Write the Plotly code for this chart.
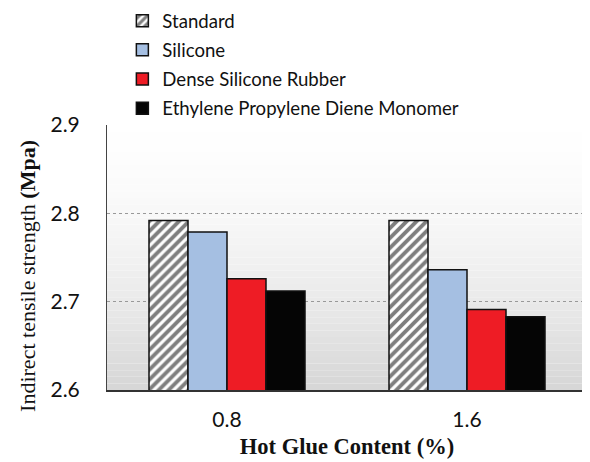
import plotly.graph_objects as go

CATEGORIES = ["0.8", "1.6"]
SERIES = ["Standard", "Silicone", "Dense Silicone Rubber", "Ethylene Propylene Diene Monomer"]
VALUES = {
    "Standard": [2.792, 2.792],
    "Silicone": [2.779, 2.736],
    "Dense Silicone Rubber": [2.726, 2.691],
    "Ethylene Propylene Diene Monomer": [2.712, 2.683],
}
Y_TICKS = [2.6, 2.7, 2.8, 2.9]

FILL = {
    "Standard": "white",
    "Silicone": "#a5bfe2",
    "Dense Silicone Rubber": "#ee1c25",
    "Ethylene Propylene Diene Monomer": "#050505",
}

SANS = "Lato, Open Sans, sans-serif"
SERIF = "Liberation Serif, Times New Roman, serif"

fig = go.Figure()
for name in SERIES:
    marker = dict(color=FILL[name], line=dict(color="#111", width=1.5))
    if name == "Standard":
        marker["pattern"] = dict(shape="/", fgcolor="#000", bgcolor="white",
                                 size=7, solidity=0.55)
    fig.add_trace(go.Bar(x=CATEGORIES, y=VALUES[name], name=name,
                         legendgroup=name, marker=marker))

# light vertical gradient behind the bars
n = 40
for i in range(n):
    t = i / (n - 1)
    g = int(255 - 40 * (1 - t) ** 1.6)
    fig.add_shape(type="rect", xref="paper", yref="paper",
                  x0=0, x1=1, y0=i / n, y1=(i + 1) / n,
                  fillcolor=f"rgb({g},{g},{g})", line_width=0, layer="below")

# y title as annotation so it can sit a little low, like the original
fig.add_annotation(
    text="Indirect tensile strength <b>(Mpa)</b>", textangle=-90,
    xref="paper", yref="paper", x=-0.167, y=0.43, showarrow=False,
    xanchor="center", yanchor="middle",
    font=dict(family=SERIF, size=22, color="#111"),
)

# page body has an 8px margin, so the figure is drawn 8px smaller and shifted
fig.update_layout(
    width=582, height=454,
    margin=dict(l=99, r=3, t=117, b=72, autoexpand=False),
    paper_bgcolor="white", plot_bgcolor="white",
    barmode="group", bargap=0.35, bargroupgap=0,
    showlegend=True,
    legend=dict(x=0.032, y=1.464, xanchor="left", yanchor="top",
                font=dict(family=SANS, size=18.6, color="#111"),
                bgcolor="rgba(0,0,0,0)", tracegroupgap=2,
                itemwidth=30),
    font=dict(family=SANS, color="#111"),
)
fig.update_xaxes(
    type="category", showgrid=False, showline=True, linecolor="#333", linewidth=1.5,
    ticks="", ticklabelstandoff=10, tickfont=dict(family=SANS, size=21, color="#111"),
    title=dict(text="<b>Hot Glue Content (%)</b>", standoff=8,
               font=dict(family=SERIF, size=22.5, color="#111")),
)
fig.update_yaxes(
    range=[2.6, 2.9], tickvals=Y_TICKS, ticktext=[f"{v:.1f}" for v in Y_TICKS],
    showgrid=True, gridcolor="#999", griddash="dot", gridwidth=1,
    showline=True, linecolor="#444", linewidth=1, zeroline=False,
    ticks="", ticklabelstandoff=22,
    tickfont=dict(family=SANS, size=21, color="#111"),
)

fig.write_html("out.html")
